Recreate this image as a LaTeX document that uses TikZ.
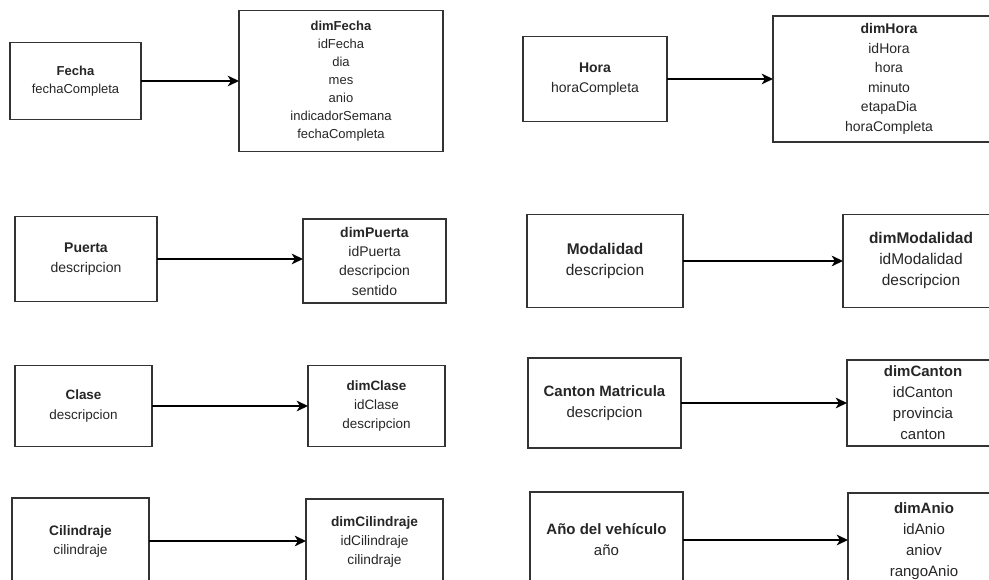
\documentclass[tikz,border=0pt]{standalone}
\usepackage{fontspec}
\setmainfont{Liberation Sans}
\usetikzlibrary{arrows.meta}
\definecolor{edge}{HTML}{333333}
\definecolor{ink}{HTML}{262626}
\tikzset{
  ent/.style={draw=edge, line width=1.2pt, inner sep=0pt, outer sep=0pt, align=center, text=ink},
  sz/.style 2 args={minimum width=#1*0.75pt, minimum height=#2*0.75pt},
  fs/.style 2 args={font=\fontsize{#1}{#2}\selectfont},
  link/.style={draw=black, line width=1.3pt, -{Stealth[length=8.5pt,width=8pt,inset=2.5pt]}},
}
\begin{document}
\begin{tikzpicture}[x=0.75pt,y=-0.75pt]
\useasboundingbox (0,0) rectangle (989,580);
\clip (0,0) rectangle (989,580);

% ---- Fecha ----
\node[ent, sz={131}{77}, fs={9.75pt}{13.5pt}] (fecha) at (75.5,81)
  {\textbf{Fecha}\\fechaCompleta};
\node[ent, sz={204}{141}, fs={9.75pt}{13.5pt}] (dimfecha) at (341,81)
  {\textbf{dimFecha}\\idFecha\\dia\\mes\\anio\\indicadorSemana\\fechaCompleta};
\draw[link] (fecha.east) -- (dimfecha.west |- fecha.east);

% ---- Hora ----
\node[ent, sz={144}{85}, fs={10.5pt}{14.6pt}] (hora) at (595,79)
  {\textbf{Hora}\\horaCompleta};
\node[ent, sz={232}{126}, fs={10.5pt}{14.6pt}] (dimhora) at (889,79)
  {\textbf{dimHora}\\idHora\\hora\\minuto\\etapaDia\\horaCompleta};
\draw[link] (hora.east) -- (dimhora.west |- hora.east);

% ---- Puerta ----
\node[ent, sz={142}{85}, fs={10.5pt}{14.5pt}] (puerta) at (86,259)
  {\textbf{Puerta}\\descripcion};
\node[ent, sz={143}{84}, fs={10.5pt}{14.5pt}] (dimpuerta) at (374.5,261)
  {\textbf{dimPuerta}\\idPuerta\\descripcion\\sentido};
\draw[link] (puerta.east) -- (dimpuerta.west |- puerta.east);

% ---- Modalidad ----
\node[ent, sz={156}{93}, fs={11.6pt}{15.75pt}] (modalidad) at (605,261)
  {\textbf{Modalidad}\\descripcion};
\node[ent, sz={156}{93}, fs={11.6pt}{15.75pt}] (dimmodalidad) at (921,261)
  {\textbf{dimModalidad}\\idModalidad\\descripcion};
\draw[link] (modalidad.east) -- (dimmodalidad.west |- modalidad.east);

% ---- Clase ----
\node[ent, sz={137}{81}, fs={10.1pt}{14.6pt}] (clase) at (83.5,406)
  {\textbf{Clase}\\descripcion};
\node[ent, sz={137}{81}, fs={10.1pt}{14.6pt}] (dimclase) at (376.5,406)
  {\textbf{dimClase}\\idClase\\descripcion};
\draw[link] (clase.east) -- (dimclase.west |- clase.east);

% ---- Canton Matricula ----
\node[ent, sz={153}{90}, fs={11.25pt}{15.75pt}] (canton) at (604.5,403)
  {\textbf{Canton Matricula}\\descripcion};
\node[ent, sz={152}{86}, fs={11.25pt}{15.75pt}] (dimcanton) at (923,403)
  {\textbf{dimCanton}\\idCanton\\provincia\\canton};
\draw[link] (canton.east) -- (dimcanton.west |- canton.east);

% ---- Cilindraje ----
\node[ent, sz={137}{86}, fs={10.3pt}{14.25pt}] (cilindraje) at (80.5,541)
  {\textbf{Cilindraje}\\cilindraje};
\node[ent, sz={137}{86}, fs={10.3pt}{14.25pt}] (dimcilindraje) at (374.5,542)
  {\textbf{dimCilindraje}\\idCilindraje\\cilindraje};
\draw[link] (cilindraje.east) -- (dimcilindraje.west |- cilindraje.east);

% ---- Año del vehículo ----
\node[ent, sz={153}{96}, fs={11.25pt}{15.75pt}] (anio) at (606.5,540)
  {\textbf{Año del vehículo}\\año};
\node[ent, sz={152}{96}, fs={11.25pt}{15.75pt}] (dimanio) at (924,541)
  {\textbf{dimAnio}\\idAnio\\aniov\\rangoAnio};
\draw[link] (anio.east) -- (dimanio.west |- anio.east);
\end{tikzpicture}
\end{document}
